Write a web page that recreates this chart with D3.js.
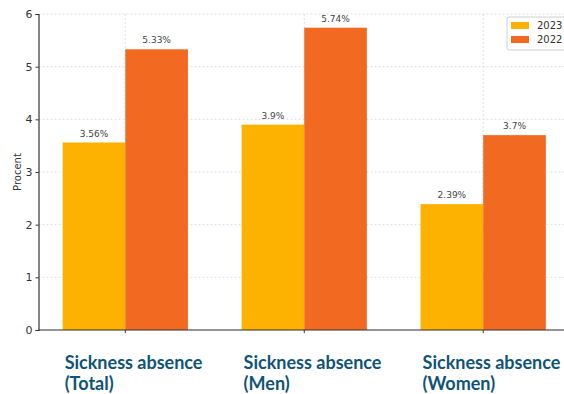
<!DOCTYPE html>
<html>
<head>
    <meta charset="utf-8">
    <title>Sickness absence 2023 vs 2022</title>
    <script src="https://d3js.org/d3.v7.min.js"></script>
    <style>
        body { margin: 0; background: #fff; }
    </style>
</head>
<body>
    <div id="chart"></div>
    <script>

        // data
        var categories = ["Total", "Men", "Women"];
        var catLabels = [["Sickness absence", "(Total)"], ["Sickness absence", "(Men)"], ["Sickness absence", "(Women)"]];
        var years = ["2023", "2022"];
        var values2023 = [3.56, 3.9, 2.39];
        var values2022 = [5.33, 5.74, 3.7];
        var valueLabels2023 = ["3.56%", "3.9%", "2.39%"];
        var valueLabels2022 = ["5.33%", "5.74%", "3.7%"];
        var yTicks = [0, 1, 2, 3, 4, 5, 6];

        var colors = { "2023": "#FDB100", "2022": "#F26A21" };

        var W = 564, H = 394;
        // plot area runs past the right edge, like the original
        var x0 = 38.5, x1 = 570, yTop = 14, yBottom = 330;

        var svg = d3.select("#chart")
            .append("svg")
            .attr("width", W)
            .attr("height", H)
            .style("font-family", "DejaVu Sans, sans-serif");

        var barW = 0.35;
        var xScale = d3.scaleLinear()
            .domain([-0.485, 2.485])
            .range([x0, x1]);
        var yScale = d3.scaleLinear()
            .domain([0, 6])
            .range([yBottom, yTop]);

        // grid
        svg.append("g")
            .selectAll("line")
            .data(yTicks)
            .join("line")
            .attr("x1", x0).attr("x2", x1)
            .attr("y1", function(d) { return yScale(d); })
            .attr("y2", function(d) { return yScale(d); })
            .attr("stroke", "#d6d6d6")
            .attr("stroke-width", 0.8)
            .attr("stroke-dasharray", "2,2");

        svg.append("g")
            .selectAll("line")
            .data(categories)
            .join("line")
            .attr("x1", function(d, i) { return xScale(i); })
            .attr("x2", function(d, i) { return xScale(i); })
            .attr("y1", yTop).attr("y2", yBottom)
            .attr("stroke", "#d6d6d6")
            .attr("stroke-width", 0.8)
            .attr("stroke-dasharray", "2,2");

        // bars
        var rows = [];
        categories.forEach(function(c, i) {
            rows.push({ i: i, year: "2023", v: values2023[i], label: valueLabels2023[i], off: -barW });
            rows.push({ i: i, year: "2022", v: values2022[i], label: valueLabels2022[i], off: 0 });
        });

        svg.append("g")
            .selectAll("rect")
            .data(rows)
            .join("rect")
            .attr("x", function(d) { return xScale(d.i + d.off); })
            .attr("width", function(d) { return xScale(d.i + d.off + barW) - xScale(d.i + d.off); })
            .attr("y", function(d) { return yScale(d.v); })
            .attr("height", function(d) { return yBottom - yScale(d.v); })
            .attr("fill", function(d) { return colors[d.year]; });

        svg.append("g")
            .selectAll("text")
            .data(rows)
            .join("text")
            .attr("x", function(d) { return xScale(d.i + d.off + barW / 2); })
            .attr("y", function(d) { return yScale(d.v) - 6; })
            .attr("text-anchor", "middle")
            .style("font-size", "9px")
            .style("fill", "#444")
            .text(function(d) { return d.label; });

        // axes
        var yAxis = d3.axisLeft(yScale).tickValues(yTicks).tickFormat(d3.format("d")).tickSize(3).tickPadding(3);
        var gy = svg.append("g")
            .attr("transform", "translate(" + x0 + ",0)")
            .call(yAxis);
        gy.select(".domain").attr("stroke", "#333").attr("stroke-width", 1.2);
        gy.selectAll(".tick line").attr("stroke", "#333");
        gy.selectAll(".tick text").style("font-size", "11px").style("fill", "#333")
            .style("font-family", "DejaVu Sans, sans-serif");

        svg.append("line")
            .attr("x1", x0).attr("x2", x1)
            .attr("y1", yBottom).attr("y2", yBottom)
            .attr("stroke", "#333")
            .attr("stroke-width", 1.2);

        svg.append("g")
            .selectAll("line")
            .data(categories)
            .join("line")
            .attr("x1", function(d, i) { return xScale(i); })
            .attr("x2", function(d, i) { return xScale(i); })
            .attr("y1", yBottom).attr("y2", yBottom + 3)
            .attr("stroke", "#333");

        svg.append("text")
            .attr("transform", "translate(21," + ((yTop + yBottom) / 2) + ") rotate(-90)")
            .attr("text-anchor", "middle")
            .style("font-size", "10px")
            .style("fill", "#333")
            .text("Procent");

        // category labels, two lines each
        var catG = svg.append("g")
            .style("font-family", "Lato, sans-serif")
            .style("font-weight", "700")
            .style("font-size", "18px")
            .style("fill", "#0F5378");
        [0, 1].forEach(function(line) {
            catG.append("g")
                .selectAll("text")
                .data(catLabels)
                .join("text")
                .attr("x", function(d, i) { return xScale(i - barW) + 2; })
                .attr("y", 369 + line * 21)
                .text(function(d) { return d[line]; });
        });

        // legend
        var lg = svg.append("g").attr("transform", "translate(507,17)");
        lg.append("rect")
            .attr("width", 70).attr("height", 33)
            .attr("rx", 2)
            .attr("fill", "#fff")
            .attr("stroke", "#d0d0d0");
        years.forEach(function(y, i) {
            lg.append("rect")
                .attr("x", 4).attr("y", 5 + i * 14)
                .attr("width", 18).attr("height", 7)
                .attr("fill", colors[y]);
            lg.append("text")
                .attr("x", 30).attr("y", 12 + i * 14)
                .style("font-size", "10px")
                .style("fill", "#333")
                .text(y);
        });

    </script>
</body>
</html>
